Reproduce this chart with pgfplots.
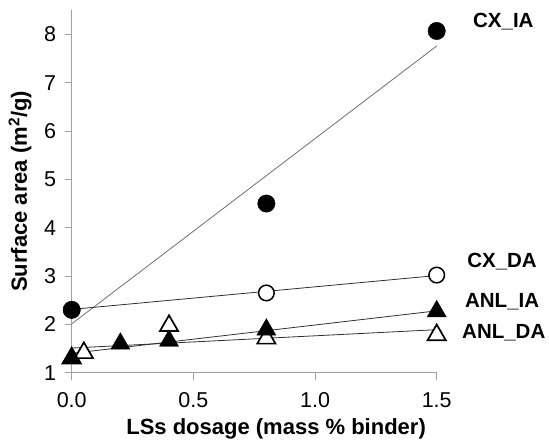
\documentclass[border=0pt]{standalone}
\usepackage{pgfplots}
\pgfplotsset{compat=1.18}
\usepackage{fontspec}
\setmainfont{Liberation Sans}
\definecolor{axgray}{HTML}{A0A0A0}
\definecolor{trendgray}{HTML}{707070}
\definecolor{linedark}{HTML}{303030}
\begin{document}
\begin{tikzpicture}
\begin{axis}[
  scale only axis,
  width=365pt, height=362.5pt,
  xmin=0, xmax=1.5, ymin=1, ymax=8.5,
  axis x line=bottom, axis y line=left,
  axis line style={-, axgray, line width=0.8pt},
  xtick={0,0.5,1.0,1.5}, ytick={1,2,3,4,5,6,7,8},
  xticklabels={0.0,0.5,1.0,1.5},
  tick align=outside, major tick length=7pt,
  tick style={axgray, line width=0.8pt},
  /pgf/number format/assume math mode=true,
  tick label style={font=\fontsize{21.5}{24}\selectfont},
  yticklabel style={xshift=-5pt},
  xticklabel style={yshift=-9pt},
  xlabel={\bfseries LSs dosage (mass \% binder)},
  ylabel={\bfseries Surface area (m\textsuperscript{2}/g)},
  label style={font=\fontsize{22}{26}\selectfont},
  xlabel style={at={(axis description cs:0.56,0)}, anchor=base, yshift=-62pt},
  ylabel style={at={(axis description cs:-0.1416,0.5)}, anchor=center},
  clip=false,
]
% trend lines
\addplot[trendgray, line width=0.8pt, no marks] coordinates {(0,2.01) (1.5,7.76)};
\addplot[linedark, line width=0.8pt, no marks] coordinates {(0,2.31) (1.5,3.01)};
\addplot[linedark, line width=0.8pt, no marks] coordinates {(0,1.40) (1.5,2.28)};
\addplot[linedark, line width=0.8pt, no marks] coordinates {(0,1.51) (1.5,1.89)};
% ANL_DA open triangles
\addplot[only marks, mark=triangle*, mark size=10.5pt, mark options={draw=black, fill=white, line width=1.7pt}] coordinates {(0,1.3) (0.05,1.41) (0.4,1.97) (0.8,1.71) (1.5,1.78)};
% ANL_IA filled triangles
\addplot[only marks, mark=triangle*, mark size=11pt, mark options={draw=black, fill=black}] coordinates {(0,1.3) (0.2,1.6) (0.4,1.66) (0.8,1.89) (1.5,2.27)};
% CX_DA open circles
\addplot[only marks, mark=*, mark size=7.8pt, mark options={draw=black, fill=white, line width=1.5pt}] coordinates {(0,2.3) (0.8,2.65) (1.5,3.02)};
% CX_IA filled circles
\addplot[only marks, mark=*, mark size=8.7pt, mark options={draw=black, fill=black}] coordinates {(0,2.3) (0.8,4.5) (1.5,8.07)};
% series labels
\node[anchor=west, font=\fontsize{20.5}{24}\selectfont\bfseries, inner sep=0pt] at (axis cs:1.649,8.26) {CX\_IA};
\node[anchor=west, font=\fontsize{20.5}{24}\selectfont\bfseries, inner sep=0pt] at (axis cs:1.625,3.30) {CX\_DA};
\node[anchor=west, font=\fontsize{20.5}{24}\selectfont\bfseries, inner sep=0pt] at (axis cs:1.616,2.47) {ANL\_IA};
\node[anchor=west, font=\fontsize{20.5}{24}\selectfont\bfseries, inner sep=0pt] at (axis cs:1.604,1.82) {ANL\_DA};
\coordinate (O) at (axis cs:0,1);
\end{axis}
\pgfresetboundingbox
\path ([shift={(-71.7pt,-70.3pt)}]O) rectangle ([shift={(477.3pt,372.7pt)}]O);
\end{tikzpicture}
\end{document}
